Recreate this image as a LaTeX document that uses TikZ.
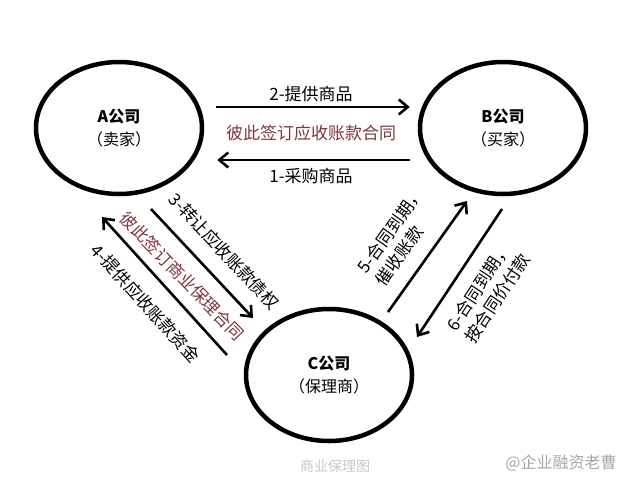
\documentclass[tikz,border=0pt]{standalone}
\usepackage{fontspec}
\setmainfont{Noto Sans CJK SC}
\usepackage{xcolor}
\usepackage{tikz}
\usetikzlibrary{shapes.geometric, arrows.meta, positioning, calc}
\definecolor{contractred}{RGB}{125,55,60}
\tikzstyle{party} = [ellipse, minimum width=166pt, minimum height=132pt, line width=4.5pt, draw=black, text centered, align=center, font=\fontsize{16}{23}\selectfont]
\tikzstyle{arrow} = [line width=2.6pt, -{Straight Barb[length=9pt,width=15pt]}]
\tikzstyle{flow} = [font=\fontsize{17}{22}\selectfont]
\tikzstyle{contract} = [font=\fontsize{17}{20}\selectfont, text=contractred]

\begin{document}
\begin{tikzpicture}[x=1pt, y=1pt, node distance=384pt]
   \useasboundingbox (0,0) rectangle (636,-477);
   \node (a) [party] at (119,-128) {\textbf{A公司}\\（卖家）};
   \node (b) [party, right of=a] {\textbf{B公司}\\（买家）};
   \node (c) [party, below of=a, node distance=247pt, xshift=210pt] {\textbf{C公司}\\（保理商）};
   % A and B
   \draw [arrow, shorten <=12pt, shorten >=8pt] ([yshift=21pt]a.east) -- node[flow, above=1pt] {2-提供商品} ([yshift=21pt]b.west);
   \draw [arrow, shorten <=8pt, shorten >=13pt] ([yshift=-32pt]b.west) -- node[flow, below=4pt] {1-采购商品} ([yshift=-32pt]a.east);
   \node (ab) [contract] at ($(a)!0.5!(b)+(0,-5)$) {彼此签订应收账款合同};
   % A and C
   \draw [arrow] ($(a)+(32,-81)$) -- node[flow, sloped, above=12pt, xshift=6pt] {3-转让应收账款债权} ($(c)+(-76,57)$);
   \draw [arrow] ($(c)+(-102,20)$) -- node[flow, sloped, below=13pt] {4-提供应收账款资金} ($(a)+(-17,-89)$);
   \node (ac) [contract, rotate=-46] at ($(a)+(63,-148)$) {彼此签订商业保理合同};
   % B and C
   \draw [arrow] ($(c)+(59,63)$) -- node[flow, sloped, above=11pt, align=left] {5-合同到期，\\催收账款} ($(b)+(-36,-73)$);
   \draw [arrow] ($(b)+(-1,-81)$) -- node[flow, sloped, below=11pt, align=left] {6-合同到期，\\按合同价付款} ($(c)+(88,38)$);
   \node (caption) [font=\fontsize{14}{16}\selectfont, text=black!22] at (335,-466) {商业保理图};
   \node (mark) [font=\fontsize{16}{18}\selectfont, text=black!35] at (561,-463) {@企业融资老曹};
\end{tikzpicture}
\end{document}
